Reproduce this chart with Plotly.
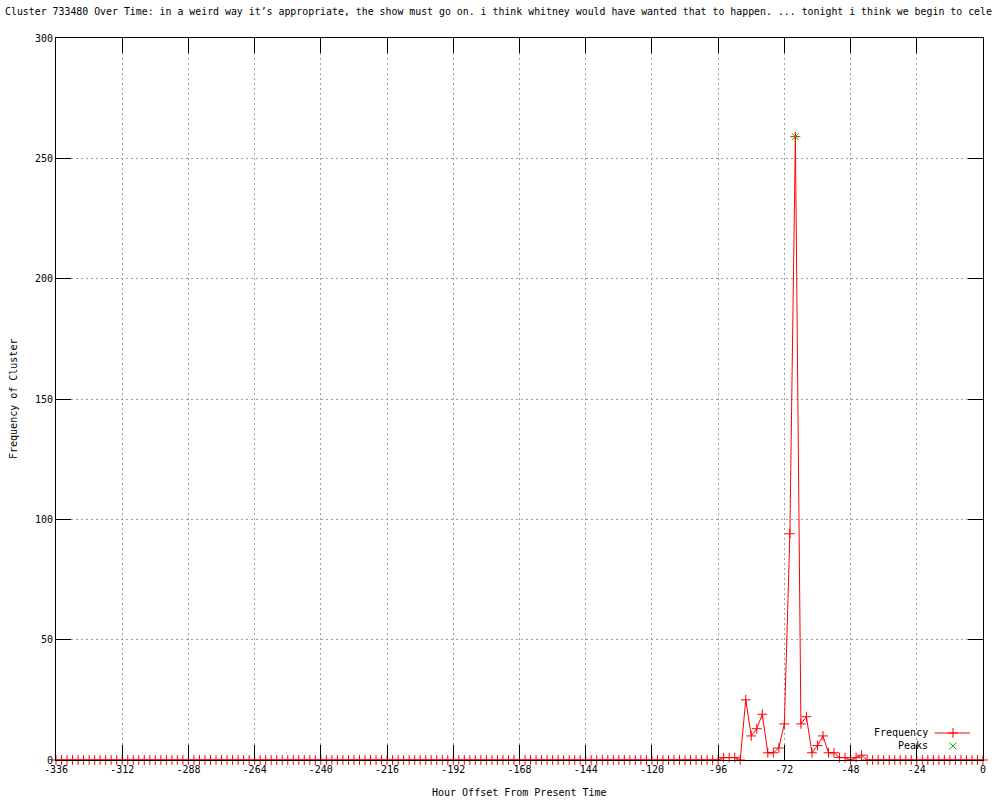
import plotly.graph_objects as go

# hour offsets, one point every 2 hours
hours = list(range(-336, 1, 2))

# frequency of the cluster per hour offset
freq = [
    0, 0, 0, 0, 0, 0, 0, 0, 0, 0, 0,
    0, 0, 0, 0, 0, 0, 0, 0, 0, 0, 0,
    0, 0, 0, 0, 0, 0, 0, 0, 0, 0, 0,
    0, 0, 0, 0, 0, 0, 0, 0, 0, 0, 0,
    0, 0, 0, 0, 0, 0, 0, 0, 0, 0, 0,
    0, 0, 0, 0, 0, 0, 0, 0, 0, 0, 0,
    0, 0, 0, 0, 0, 0, 0, 0, 0, 0, 0,
    0, 0, 0, 0, 0, 0, 0, 0, 0, 0, 0,
    0, 0, 0, 0, 0, 0, 0, 0, 0, 0, 0,
    0, 0, 0, 0, 0, 0, 0, 0, 0, 0, 0,
    0, 0, 0, 0, 0, 0, 0, 0, 0, 0, 0,   # up to -96
    1, 1, 1, 0, 25, 10, 13, 19, 3, 3, 5, 15, 94, 259,   # -94 .. -68
    15, 18, 3, 6, 10, 3, 3, 1, 1, 0, 1, 2, 0,            # -66 .. -42
    0, 0, 0, 0, 0, 0, 0, 0, 0, 0, 0,
    0, 0, 0, 0, 0, 0, 0, 0, 0, 0,                        # -40 .. 0
]

peak_hours = [-68]
peak_values = [259]

x_ticks = [-336, -312, -288, -264, -240, -216, -192, -168, -144, -120, -96, -72, -48, -24, 0]
x_tick_labels = ["-336", "-312", "-288", "-264", "-240", "-216", "-192", "-168",
                 "-144", "-120", "-96", "-72", "-48", "-24", "0"]
y_ticks = [0, 50, 100, 150, 200, 250, 300]

title_text = ("Cluster 733480 Over Time: in a weird way it\u2019s appropriate, the show must go on. "
              "i think whitney would have wanted that to happen. ... tonight i think we begin to cele")

MONO = "DejaVu Sans Mono"
RED = "#ff0000"
GREEN = "#00c000"

fig = go.Figure()

fig.add_trace(go.Scatter(
    x=hours, y=freq,
    mode="lines+markers",
    line=dict(color=RED, width=1),
    marker=dict(symbol="cross-thin-open", size=7, color=RED, line=dict(color=RED, width=1)),
    cliponaxis=False,
    showlegend=False,
))
fig.add_trace(go.Scatter(
    x=peak_hours, y=peak_values,
    mode="markers",
    marker=dict(symbol="x-thin-open", size=7, color=GREEN, line=dict(color=GREEN, width=1)),
    cliponaxis=False,
    showlegend=False,
))

# legend samples drawn on an overlay axis (0..1 in the plot area)
fig.add_trace(go.Scatter(
    x=[0.948, 0.9676, 0.986], y=[0.0374, 0.0374, 0.0374],
    xaxis="x2", yaxis="y2",
    mode="lines+markers",
    line=dict(color=RED, width=1),
    marker=dict(symbol="cross-thin-open", size=7, color=RED, line=dict(color=RED, width=1),
                opacity=[0, 1, 0]),
    showlegend=False, hoverinfo="skip",
))
fig.add_trace(go.Scatter(
    x=[0.9676], y=[0.0194],
    xaxis="x2", yaxis="y2",
    mode="markers",
    marker=dict(symbol="x-thin-open", size=7, color=GREEN, line=dict(color=GREEN, width=1)),
    showlegend=False, hoverinfo="skip",
))

axis_common = dict(
    showline=True, linecolor="black", linewidth=1, mirror="ticks",
    ticks="inside", ticklen=15, tickcolor="black", tickwidth=1,
    showgrid=True, gridcolor="#a0a0a0", griddash="2px,3px", gridwidth=1,
    zeroline=False,
    tickfont=dict(family=MONO, size=10, color="black"),
)

fig.update_layout(
    width=1000, height=800,
    paper_bgcolor="white", plot_bgcolor="white",
    margin=dict(l=56, r=17, t=38, b=40),
    title=dict(text=title_text, x=0.005, xref="container", xanchor="left",
               y=0.985, yref="container", yanchor="middle",
               font=dict(family=MONO, size=9.9, color="black")),
    xaxis=dict(range=[-336, 0], tickvals=x_ticks, ticktext=x_tick_labels, **axis_common),
    yaxis=dict(range=[0, 300], tickvals=y_ticks, **axis_common),
    xaxis2=dict(overlaying="x", range=[0, 1], visible=False),
    yaxis2=dict(overlaying="y", range=[0, 1], visible=False),
    showlegend=False,
    font=dict(family=MONO, size=10, color="black"),
)

fig.add_annotation(text="Hour Offset From Present Time", xref="paper", yref="paper",
                   x=0.5, y=-0.0457, xanchor="center", yanchor="middle", showarrow=False,
                   font=dict(family=MONO, size=10, color="black"))
fig.add_annotation(text="Frequency of Cluster", xref="paper", yref="paper",
                   x=-0.0464, y=0.5, xanchor="center", yanchor="middle", textangle=-90,
                   showarrow=False, font=dict(family=MONO, size=10, color="black"))
fig.add_annotation(text="Frequency", xref="paper", yref="paper",
                   x=0.943, y=0.0374, xanchor="right", yanchor="middle", showarrow=False,
                   font=dict(family=MONO, size=10, color="black"))
fig.add_annotation(text="Peaks", xref="paper", yref="paper",
                   x=0.943, y=0.0194, xanchor="right", yanchor="middle", showarrow=False,
                   font=dict(family=MONO, size=10, color="black"))

fig.write_html("out.html", config={"displayModeBar": False},
               post_script="document.body.style.margin='0';")
